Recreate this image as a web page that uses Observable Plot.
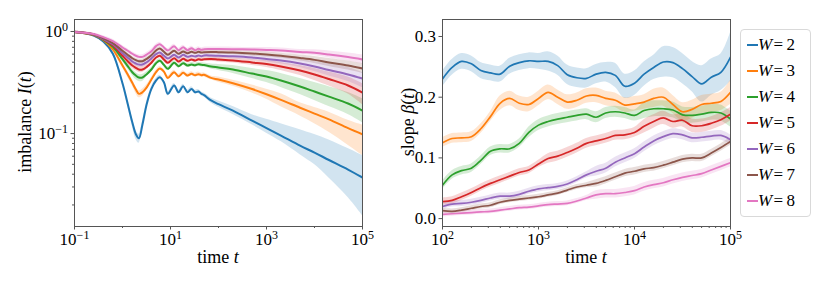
<!DOCTYPE html>
<html><head><meta charset="utf-8">
<script src="https://cdn.jsdelivr.net/npm/d3@7"></script>
<script src="https://cdn.jsdelivr.net/npm/@observablehq/plot@0.6"></script>
<style>
body{margin:0;background:#fff;}
#wrap{position:relative;width:830px;height:291px;font-family:"Liberation Serif","Times New Roman","DejaVu Serif",serif;color:#000;overflow:hidden;}
#wrap *{font-family:"Liberation Serif","Times New Roman","DejaVu Serif",serif;}
#left,#right{position:absolute;top:0;}
#left{left:0}
#right{left:400px}
.lab{position:absolute;font-size:18px;white-space:nowrap;line-height:20px;}
.rot{transform:translate(-50%,-50%) rotate(-90deg);}
.hx{transform:translateX(-50%);}
#legend{position:absolute;left:740px;top:29px;width:71px;height:188px;border:1px solid #d9d9d9;border-radius:4px;box-sizing:border-box;background:#fff;padding-top:2px;}
.row{height:26px;line-height:26px;font-size:17px;position:relative;white-space:nowrap;}
.row .sw{position:absolute;left:6px;top:12px;width:11px;height:2px;}
.row .tx{position:absolute;left:17px;top:0;}
</style></head>
<body><div id="wrap"><div id="left"></div><div id="right"></div>
<div class="lab rot" style="left:25px;top:122px">imbalance <i>I</i>(<i>t</i>)</div>
<div class="lab hx" style="left:218px;top:247px">time <i>t</i></div>
<div class="lab rot" style="left:408px;top:122px">slope <i>β</i>(<i>t</i>)</div>
<div class="lab hx" style="left:586px;top:247px">time <i>t</i></div>
<div id="legend"></div>
</div>
<script>
const Ws = [2,3,4,5,6,7,8];
const colors = ["#1f77b4","#ff7f0e","#2ca02c","#d62728","#9467bd","#8c564b","#e377c2"];

// ---------- left panel: imbalance I(t) ----------
const tLeft = [0.1,0.25,0.4,0.63,1.0,1.26,1.6,1.9,2.2,2.6,3.2,4.0,5.0,6.0,7.3,8.8,11.9,14.7,18.4,22.6,27.4,32.7,38.3,44.2,50,70,100,200,500,1000,2000,5000,1e4,2e4,5e4,1e5];

const I_W2 = [0.989,0.914,0.798,0.605,0.311,0.203,0.129,0.0985,0.0899,0.122,0.195,0.274,0.331,0.356,0.318,0.245,0.296,0.254,0.291,0.254,0.274,0.254,0.258,0.245,0.238,0.211,0.194,0.168,0.134,0.113,0.0956,0.0762,0.0651,0.0551,0.0444,0.0371];
const I_W2_hi = [1.01,0.935,0.826,0.633,0.329,0.217,0.141,0.108,0.0983,0.131,0.206,0.287,0.346,0.372,0.333,0.256,0.310,0.266,0.304,0.266,0.287,0.266,0.270,0.256,0.249,0.223,0.208,0.184,0.153,0.138,0.125,0.109,0.0978,0.0866,0.0714,0.0610];
const I_W2_lo = [0.967,0.894,0.771,0.578,0.294,0.190,0.118,0.0880,0.0803,0.112,0.184,0.262,0.316,0.340,0.304,0.234,0.283,0.243,0.278,0.243,0.262,0.243,0.247,0.234,0.228,0.199,0.181,0.154,0.122,0.101,0.0835,0.0622,0.0497,0.0367,0.0236,0.0157];

const I_W3 = [0.989,0.924,0.822,0.666,0.464,0.385,0.314,0.270,0.245,0.254,0.284,0.338,0.399,0.434,0.405,0.351,0.399,0.364,0.394,0.370,0.385,0.373,0.382,0.373,0.376,0.351,0.338,0.311,0.273,0.243,0.214,0.179,0.157,0.138,0.113,0.0984];
const I_W3_hi = [1.01,0.945,0.851,0.697,0.491,0.412,0.336,0.289,0.262,0.272,0.300,0.354,0.417,0.454,0.424,0.367,0.417,0.381,0.412,0.387,0.403,0.390,0.400,0.390,0.393,0.367,0.358,0.333,0.299,0.272,0.245,0.200,0.180,0.162,0.135,0.121];
const I_W3_lo = [0.967,0.904,0.794,0.637,0.438,0.360,0.294,0.247,0.224,0.232,0.268,0.323,0.381,0.415,0.387,0.336,0.381,0.348,0.377,0.354,0.368,0.357,0.365,0.357,0.359,0.336,0.319,0.291,0.250,0.217,0.183,0.149,0.125,0.103,0.0770,0.0612];

const I_W4 = [0.989,0.928,0.829,0.708,0.535,0.464,0.399,0.370,0.354,0.354,0.382,0.424,0.489,0.516,0.471,0.431,0.494,0.457,0.489,0.464,0.474,0.467,0.478,0.471,0.469,0.454,0.444,0.424,0.387,0.362,0.331,0.289,0.258,0.230,0.197,0.168];
const I_W4_hi = [1.01,0.949,0.858,0.741,0.566,0.496,0.427,0.396,0.379,0.379,0.404,0.444,0.511,0.540,0.493,0.451,0.517,0.478,0.511,0.485,0.496,0.488,0.500,0.493,0.491,0.480,0.475,0.464,0.433,0.414,0.388,0.346,0.316,0.288,0.253,0.220];
const I_W4_lo = [0.967,0.907,0.801,0.677,0.506,0.434,0.373,0.338,0.324,0.324,0.361,0.405,0.467,0.493,0.450,0.412,0.472,0.437,0.467,0.444,0.453,0.446,0.457,0.450,0.448,0.429,0.415,0.388,0.346,0.316,0.283,0.241,0.211,0.184,0.154,0.128];

const I_W5 = [0.989,0.935,0.835,0.729,0.578,0.516,0.464,0.441,0.424,0.424,0.450,0.494,0.556,0.578,0.532,0.494,0.547,0.508,0.540,0.516,0.532,0.520,0.535,0.528,0.535,0.538,0.532,0.520,0.497,0.480,0.454,0.414,0.379,0.342,0.296,0.252];
const I_W5_hi = [1.01,0.956,0.864,0.763,0.612,0.552,0.496,0.472,0.454,0.454,0.476,0.517,0.582,0.605,0.556,0.517,0.572,0.531,0.565,0.540,0.556,0.544,0.560,0.552,0.560,0.569,0.563,0.550,0.532,0.519,0.497,0.463,0.434,0.400,0.359,0.309];
const I_W5_lo = [0.967,0.914,0.807,0.697,0.546,0.482,0.434,0.412,0.396,0.396,0.425,0.472,0.532,0.553,0.509,0.472,0.523,0.486,0.516,0.493,0.509,0.497,0.511,0.505,0.511,0.508,0.503,0.491,0.465,0.444,0.415,0.370,0.331,0.292,0.244,0.192];

const I_W6 = [0.989,0.935,0.840,0.751,0.613,0.560,0.508,0.486,0.474,0.474,0.500,0.544,0.600,0.622,0.578,0.544,0.591,0.556,0.591,0.564,0.578,0.569,0.582,0.573,0.582,0.582,0.578,0.571,0.556,0.538,0.520,0.486,0.454,0.419,0.379,0.346];
const I_W6_hi = [1.01,0.956,0.869,0.786,0.649,0.592,0.537,0.514,0.501,0.501,0.529,0.569,0.628,0.651,0.605,0.569,0.618,0.582,0.618,0.590,0.605,0.595,0.609,0.599,0.609,0.616,0.612,0.604,0.588,0.576,0.563,0.532,0.508,0.480,0.444,0.396];
const I_W6_lo = [0.967,0.914,0.811,0.718,0.579,0.529,0.480,0.459,0.448,0.448,0.473,0.520,0.574,0.595,0.553,0.520,0.565,0.532,0.565,0.539,0.553,0.544,0.556,0.548,0.556,0.550,0.546,0.540,0.525,0.503,0.480,0.444,0.405,0.366,0.324,0.282];

const I_W7 = [0.989,0.935,0.854,0.768,0.647,0.595,0.547,0.524,0.512,0.512,0.540,0.585,0.651,0.681,0.632,0.591,0.647,0.604,0.637,0.613,0.632,0.618,0.632,0.622,0.627,0.629,0.627,0.622,0.609,0.595,0.578,0.550,0.527,0.497,0.464,0.434];
const I_W7_hi = [1.01,0.956,0.883,0.803,0.677,0.622,0.572,0.548,0.536,0.536,0.565,0.612,0.681,0.712,0.661,0.618,0.677,0.632,0.666,0.641,0.661,0.646,0.661,0.651,0.656,0.658,0.656,0.651,0.644,0.630,0.612,0.589,0.570,0.544,0.514,0.486];
const I_W7_lo = [0.967,0.914,0.825,0.734,0.619,0.569,0.523,0.501,0.489,0.489,0.516,0.559,0.622,0.651,0.604,0.565,0.619,0.577,0.609,0.586,0.604,0.591,0.604,0.595,0.599,0.601,0.599,0.595,0.576,0.562,0.546,0.514,0.487,0.454,0.419,0.388];

const I_W8 = [0.989,0.945,0.879,0.803,0.697,0.651,0.605,0.578,0.564,0.564,0.595,0.641,0.718,0.751,0.697,0.651,0.718,0.656,0.701,0.656,0.686,0.656,0.676,0.662,0.671,0.673,0.673,0.671,0.666,0.659,0.651,0.629,0.618,0.595,0.561,0.532];
const I_W8_hi = [1.01,0.967,0.909,0.840,0.729,0.681,0.633,0.605,0.590,0.590,0.622,0.670,0.751,0.786,0.729,0.681,0.751,0.686,0.733,0.686,0.718,0.686,0.707,0.692,0.702,0.704,0.704,0.702,0.697,0.697,0.689,0.665,0.661,0.644,0.614,0.589];
const I_W8_lo = [0.967,0.924,0.849,0.768,0.666,0.622,0.578,0.553,0.539,0.539,0.569,0.613,0.686,0.718,0.666,0.622,0.686,0.627,0.670,0.627,0.656,0.627,0.646,0.633,0.641,0.643,0.643,0.641,0.637,0.623,0.615,0.594,0.578,0.550,0.513,0.480];

// ---------- right panel: slope beta(t) ----------
const tRight = [100,126,158,200,251,316,398,501,631,794,1000,1259,1585,1995,2512,3162,3981,5012,6310,7943,10000,12589,15849,19953,25119,31623,39811,50119,63096,79433,100000];

const B_W2 = [0.230,0.249,0.259,0.255,0.244,0.240,0.238,0.251,0.257,0.260,0.259,0.259,0.252,0.237,0.232,0.231,0.238,0.241,0.236,0.218,0.223,0.238,0.249,0.258,0.257,0.247,0.234,0.222,0.233,0.241,0.266];
const B_W2_hi = [0.243,0.262,0.272,0.268,0.257,0.253,0.251,0.264,0.270,0.273,0.272,0.275,0.268,0.253,0.248,0.247,0.254,0.257,0.256,0.238,0.243,0.258,0.269,0.283,0.282,0.272,0.259,0.252,0.263,0.271,0.306];
const B_W2_lo = [0.217,0.236,0.246,0.242,0.231,0.227,0.225,0.238,0.244,0.247,0.246,0.243,0.236,0.221,0.216,0.215,0.222,0.225,0.216,0.198,0.203,0.218,0.229,0.233,0.232,0.222,0.209,0.192,0.203,0.211,0.226];

const B_W3 = [0.125,0.132,0.133,0.135,0.148,0.168,0.190,0.198,0.190,0.188,0.198,0.208,0.200,0.192,0.195,0.202,0.203,0.198,0.195,0.187,0.189,0.192,0.198,0.200,0.188,0.176,0.180,0.188,0.190,0.193,0.208];
const B_W3_hi = [0.133,0.140,0.141,0.143,0.156,0.176,0.202,0.210,0.202,0.200,0.210,0.220,0.212,0.204,0.207,0.214,0.215,0.210,0.207,0.199,0.201,0.204,0.213,0.215,0.203,0.191,0.195,0.203,0.205,0.208,0.228];
const B_W3_lo = [0.117,0.124,0.125,0.127,0.140,0.160,0.178,0.186,0.178,0.176,0.186,0.196,0.188,0.180,0.183,0.190,0.191,0.186,0.183,0.175,0.177,0.180,0.183,0.185,0.173,0.161,0.165,0.173,0.175,0.178,0.188];

const B_W4 = [0.055,0.072,0.079,0.083,0.096,0.111,0.115,0.115,0.124,0.142,0.154,0.160,0.164,0.167,0.170,0.172,0.167,0.174,0.176,0.174,0.170,0.178,0.181,0.181,0.179,0.171,0.170,0.172,0.175,0.174,0.164];
const B_W4_hi = [0.062,0.079,0.086,0.090,0.103,0.118,0.122,0.122,0.131,0.151,0.163,0.169,0.173,0.176,0.179,0.181,0.176,0.183,0.185,0.183,0.179,0.191,0.194,0.194,0.192,0.184,0.183,0.185,0.188,0.187,0.177];
const B_W4_lo = [0.048,0.065,0.072,0.076,0.089,0.104,0.108,0.108,0.117,0.133,0.145,0.151,0.155,0.158,0.161,0.163,0.158,0.165,0.167,0.165,0.161,0.165,0.168,0.168,0.166,0.158,0.157,0.159,0.162,0.161,0.151];

const B_W5 = [0.028,0.030,0.036,0.043,0.051,0.058,0.064,0.070,0.076,0.080,0.090,0.099,0.103,0.109,0.116,0.124,0.128,0.132,0.137,0.138,0.142,0.152,0.160,0.166,0.160,0.162,0.153,0.153,0.157,0.163,0.172];
const B_W5_hi = [0.034,0.036,0.042,0.049,0.057,0.064,0.070,0.076,0.082,0.086,0.096,0.107,0.111,0.117,0.124,0.132,0.136,0.140,0.145,0.146,0.150,0.163,0.171,0.177,0.171,0.173,0.164,0.164,0.168,0.174,0.183];
const B_W5_lo = [0.022,0.024,0.030,0.037,0.045,0.052,0.058,0.064,0.070,0.074,0.084,0.091,0.095,0.101,0.108,0.116,0.120,0.124,0.129,0.130,0.134,0.141,0.149,0.155,0.149,0.151,0.142,0.142,0.146,0.152,0.161];

const B_W6 = [0.020,0.024,0.025,0.027,0.030,0.034,0.037,0.037,0.040,0.045,0.049,0.051,0.053,0.057,0.064,0.072,0.078,0.083,0.093,0.100,0.107,0.118,0.128,0.135,0.140,0.138,0.133,0.134,0.136,0.137,0.130];
const B_W6_hi = [0.025,0.029,0.030,0.032,0.035,0.039,0.042,0.042,0.045,0.050,0.054,0.056,0.058,0.062,0.069,0.077,0.086,0.091,0.101,0.108,0.115,0.126,0.136,0.143,0.148,0.146,0.141,0.142,0.144,0.145,0.138];
const B_W6_lo = [0.015,0.019,0.020,0.022,0.025,0.029,0.032,0.032,0.035,0.040,0.044,0.046,0.048,0.052,0.059,0.067,0.070,0.075,0.085,0.092,0.099,0.110,0.120,0.127,0.132,0.130,0.125,0.126,0.128,0.129,0.122];

const B_W7 = [0.013,0.012,0.014,0.017,0.020,0.022,0.027,0.030,0.032,0.034,0.036,0.039,0.042,0.047,0.052,0.055,0.058,0.063,0.069,0.075,0.078,0.082,0.084,0.088,0.093,0.098,0.100,0.100,0.108,0.117,0.127];
const B_W7_hi = [0.017,0.016,0.018,0.021,0.024,0.026,0.031,0.034,0.036,0.038,0.040,0.043,0.046,0.051,0.056,0.059,0.064,0.069,0.075,0.081,0.084,0.088,0.090,0.094,0.099,0.104,0.106,0.106,0.114,0.123,0.133];
const B_W7_lo = [0.009,0.008,0.010,0.013,0.016,0.018,0.023,0.026,0.028,0.030,0.032,0.035,0.038,0.043,0.048,0.051,0.052,0.057,0.063,0.069,0.072,0.076,0.078,0.082,0.087,0.092,0.094,0.094,0.102,0.111,0.121];

const B_W8 = [0.007,0.008,0.009,0.010,0.011,0.012,0.014,0.016,0.018,0.019,0.021,0.023,0.024,0.025,0.029,0.034,0.039,0.041,0.041,0.043,0.046,0.052,0.056,0.059,0.064,0.068,0.071,0.074,0.080,0.086,0.092];
const B_W8_hi = [0.011,0.012,0.013,0.014,0.015,0.016,0.018,0.020,0.022,0.023,0.025,0.027,0.028,0.029,0.033,0.038,0.046,0.048,0.048,0.050,0.053,0.059,0.063,0.066,0.071,0.075,0.078,0.081,0.087,0.093,0.099];
const B_W8_lo = [0.003,0.004,0.005,0.006,0.007,0.008,0.010,0.012,0.014,0.015,0.017,0.019,0.020,0.021,0.025,0.030,0.032,0.034,0.034,0.036,0.039,0.045,0.049,0.052,0.057,0.061,0.064,0.067,0.073,0.079,0.085];

// tick positions
const leftXTicks = [0.1, 10, 1000, 1e5];
const leftXMinor = [1, 100, 1e4];
const leftYTicks = [1, 0.1];
const leftYMinor = [0.02,0.03,0.04,0.05,0.06,0.07,0.08,0.09,0.2,0.3,0.4,0.5,0.6,0.7,0.8,0.9];
const rightXTicks = [100, 1000, 1e4, 1e5];
const rightXMinor = [200,300,400,500,600,700,800,900,2000,3000,4000,5000,6000,7000,8000,9000,20000,30000,40000,50000,60000,70000,80000,90000];
const rightYTicks = [0, 0.1, 0.2, 0.3];

// ---------- build tables ----------
const leftSeries = [[I_W2,I_W2_lo,I_W2_hi],[I_W3,I_W3_lo,I_W3_hi],[I_W4,I_W4_lo,I_W4_hi],[I_W5,I_W5_lo,I_W5_hi],[I_W6,I_W6_lo,I_W6_hi],[I_W7,I_W7_lo,I_W7_hi],[I_W8,I_W8_lo,I_W8_hi]];
const rightSeries = [[B_W2,B_W2_lo,B_W2_hi],[B_W3,B_W3_lo,B_W3_hi],[B_W4,B_W4_lo,B_W4_hi],[B_W5,B_W5_lo,B_W5_hi],[B_W6,B_W6_lo,B_W6_hi],[B_W7,B_W7_lo,B_W7_hi],[B_W8,B_W8_lo,B_W8_hi]];
const leftRows = Ws.flatMap((w,i)=>tLeft.map((t,j)=>({W:w,t,v:leftSeries[i][0][j],lo:leftSeries[i][1][j],hi:leftSeries[i][2][j]})));
const rightRows = Ws.flatMap((w,i)=>tRight.map((t,j)=>({W:w,t,v:rightSeries[i][0][j],lo:rightSeries[i][1][j],hi:rightSeries[i][2][j]})));

const FONT = "'Liberation Serif', 'Times New Roman', 'DejaVu Serif', serif";
const pow = d => "10^" + String(Math.round(Math.log10(d))).replace("-","−");
const none = () => "";
const axisColor = "#555";
const style = {fontFamily:FONT, fontSize:"17px", color:"#000", background:"transparent", overflow:"visible"};
const colorScale = {domain: Ws, range: colors};

const left = Plot.plot({
  width: 400, height: 291,
  marginLeft: 74, marginRight: 38, marginTop: 19, marginBottom: 65,
  style,
  x: {type:"log", domain:[0.1,1e5]},
  y: {type:"log", domain:[0.0123,1.31]},
  color: colorScale,
  marks: [
    Plot.areaY(leftRows, {x:"t", y1:"lo", y2:"hi", z:"W", fill:"W", fillOpacity:0.2, curve:"catmull-rom", clip:true}),
    Plot.lineY(leftRows, {x:"t", y:"v", z:"W", stroke:"W", strokeWidth:2, curve:"catmull-rom", clip:true}),
    Plot.axisX({ticks:leftXTicks, tickFormat:pow, tickSize:3.5, tickPadding:3, stroke:axisColor, label:null}),
    Plot.axisX({ticks:leftXMinor, tickFormat:none, tickSize:2, stroke:axisColor, label:null}),
    Plot.axisY({ticks:leftYTicks, tickFormat:pow, tickSize:3.5, tickPadding:3, stroke:axisColor, label:null}),
    Plot.axisY({ticks:leftYMinor, tickFormat:none, tickSize:2, stroke:axisColor, label:null}),
    Plot.frame({stroke:axisColor, strokeWidth:1})
  ]
});

const right = Plot.plot({
  width: 430, height: 291,
  marginLeft: 42, marginRight: 100, marginTop: 19, marginBottom: 65,
  style,
  x: {type:"log", domain:[100,1e5]},
  y: {domain:[-0.013,0.328]},
  color: colorScale,
  marks: [
    Plot.areaY(rightRows, {x:"t", y1:"lo", y2:"hi", z:"W", fill:"W", fillOpacity:0.2, curve:"catmull-rom", clip:true}),
    Plot.lineY(rightRows, {x:"t", y:"v", z:"W", stroke:"W", strokeWidth:1.7, curve:"catmull-rom", clip:true}),
    Plot.axisX({ticks:rightXTicks, tickFormat:pow, tickSize:3.5, tickPadding:3, stroke:axisColor, label:null}),
    Plot.axisX({ticks:rightXMinor, tickFormat:none, tickSize:2, stroke:axisColor, label:null}),
    Plot.axisY({ticks:rightYTicks, tickFormat:d3.format(".1f"), tickSize:3.5, tickPadding:3, stroke:axisColor, label:null}),
    Plot.frame({stroke:axisColor, strokeWidth:1})
  ]
});

function fixText(svg){
  svg.querySelectorAll("text").forEach(t=>{
    t.style.fontFamily = FONT;
    t.style.fontSize = "17px";
    const s = t.textContent;
    const m = s.match(/^10\^(.+)$/);
    if(m){
      t.textContent = "10";
      const ts = document.createElementNS("http://www.w3.org/2000/svg","tspan");
      ts.setAttribute("dy","-0.5em");
      ts.setAttribute("font-size","12px");
      ts.textContent = m[1];
      t.appendChild(ts);
    }
  });
}
fixText(left); fixText(right);
document.getElementById("left").appendChild(left);
document.getElementById("right").appendChild(right);

const leg = document.getElementById("legend");
Ws.forEach((w,i)=>{
  const r = document.createElement("div");
  r.className = "row";
  r.innerHTML = `<span class="sw" style="background:${colors[i]}"></span><span class="tx"><i>W</i>&#8202;=&#8201;${w}</span>`;
  leg.appendChild(r);
});
</script>
</body></html>
